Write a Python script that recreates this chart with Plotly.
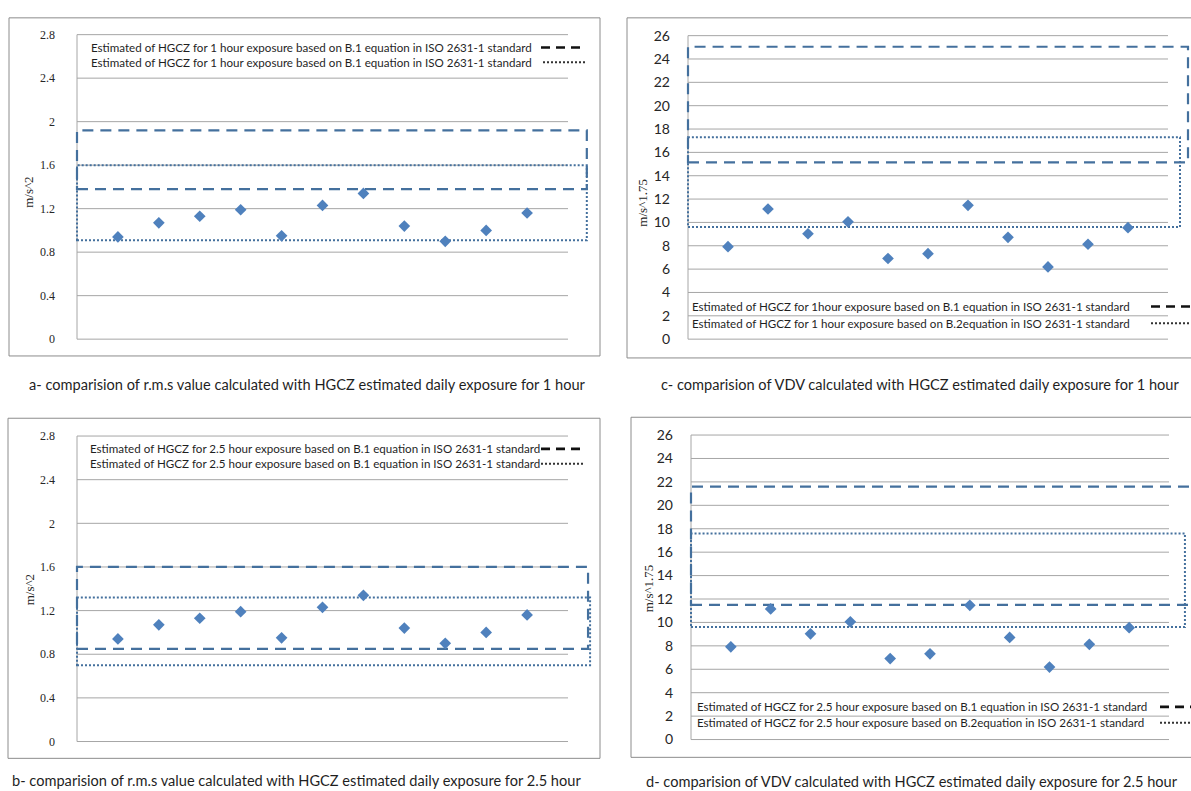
import plotly.graph_objects as go

W, H = 1191, 791

# ---------------- data ----------------
categories = list(range(1, 12))
rms_values = [0.94, 1.07, 1.13, 1.19, 0.95, 1.23, 1.34, 1.04, 0.90, 1.00, 1.16]
vdv_values = [7.92, 11.15, 9.03, 10.05, 6.91, 7.32, 11.46, 8.72, 6.19, 8.13, 9.55]

rms_ticks = [0, 0.4, 0.8, 1.2, 1.6, 2, 2.4, 2.8]
rms_ticklabels = ["0", "0.4", "0.8", "1.2", "1.6", "2", "2.4", "2.8"]
vdv_ticks = list(range(0, 27, 2))
vdv_ticklabels = [str(v) for v in vdv_ticks]

# HGCZ bands [lower, upper]
a_band_b1 = [1.38, 1.92]
a_band_b2 = [0.91, 1.60]
b_band_b1 = [0.85, 1.60]
b_band_b2 = [0.70, 1.32]
c_band_b1 = [15.15, 25.05]
c_band_b2 = [9.60, 17.30]
d_band_b1 = [11.50, 21.60]
d_band_b2 = [9.60, 17.60]
# right end of each band, in category units
a_band_end = [12.46, 12.46]
b_band_end = [12.49, 12.54]
c_band_end = [12.50, 12.30]
d_band_end = [12.90, 12.40]

a_legend = ["Estimated of HGCZ for 1 hour exposure based on B.1 equation in ISO 2631-1 standard",
            "Estimated of HGCZ for 1 hour exposure based on B.1 equation in ISO 2631-1 standard"]
b_legend = ["Estimated of HGCZ for 2.5 hour exposure based on B.1 equation in ISO 2631-1 standard",
            "Estimated of HGCZ for 2.5 hour exposure based on B.1 equation in ISO 2631-1 standard"]
c_legend = ["Estimated of HGCZ for 1hour exposure based on B.1 equation in ISO 2631-1 standard",
            "Estimated of HGCZ for 1 hour exposure based on B.2equation in ISO 2631-1 standard"]
d_legend = ["Estimated of HGCZ for 2.5 hour exposure based on B.1 equation in ISO 2631-1 standard",
            "Estimated of HGCZ for 2.5 hour exposure based on B.2equation in ISO 2631-1 standard"]

captions = ["a- comparision of r.m.s value calculated with HGCZ estimated daily exposure for 1 hour",
            "b- comparision of r.m.s value calculated with HGCZ estimated daily exposure for 2.5 hour",
            "c- comparision of VDV calculated with HGCZ estimated daily exposure for 1 hour",
            "d- comparision of VDV calculated with HGCZ estimated daily exposure for 2.5 hour"]

# ---------------- styling ----------------
MARK = "#4F81BD"
BAND = "#44709D"
GRID = "#A6A6A6"
BOX = "#8C8C8C"
SERIF = "Liberation Serif"
SANS = "Lato"


def px(x):
    return x / W


def py(y):
    return 1 - y / H


panels = [
    dict(ax="", values=rms_values, ticks=rms_ticks, labels=rms_ticklabels, top=2.8,
         L=77, R=568, T=30, B=338, E=595, bands=[a_band_b1, a_band_b2], ends=a_band_end,
         legend=a_legend, legx=89, legy=[43, 58], samp=[(541, 582, 43), (543, 586, 58)],
         serif=True, title="m/s^2", tpos=(29, 190), box=(9, 13, 600, 355),
         caption=captions[0], cpos=(307, 384), standoff=17),
    dict(ax="2", values=rms_values, ticks=rms_ticks, labels=rms_ticklabels, top=2.8,
         L=77, R=568, T=436, B=745, E=595, bands=[b_band_b1, b_band_b2], ends=b_band_end,
         legend=b_legend, legx=88, legy=[449, 464], samp=[(541, 581, 449), (541, 584, 464)],
         serif=True, title="m/s^2", tpos=(29, 592), box=(8, 418, 600, 762),
         caption=captions[1], cpos=(296, 784), standoff=17),
    dict(ax="3", values=vdv_values, ticks=vdv_ticks, labels=vdv_ticklabels, top=26,
         L=688, R=1168, T=31, B=338, E=1191, bands=[c_band_b1, c_band_b2], ends=c_band_end,
         legend=c_legend, legx=690, legy=[305, 322], samp=[(1151, 1191, 305), (1151, 1191, 322)],
         serif=False, title="m/s^1.75", tpos=(643, 200), box=(627, 13, 1205, 357),
         caption=captions[2], cpos=(920, 384), standoff=13),
    dict(ax="4", values=vdv_values, ticks=vdv_ticks, labels=vdv_ticklabels, top=26,
         L=691, R=1169, T=435, B=743, E=1191, bands=[d_band_b1, d_band_b2], ends=d_band_end,
         legend=d_legend, legx=695, legy=[710, 726], samp=[(1160, 1191, 710), (1160, 1191, 726)],
         serif=False, title="m/s^1.75", tpos=(648, 590), box=(631, 417, 1205, 761),
         caption=captions[3], cpos=(912, 785), standoff=13),
]

fig = go.Figure()
shapes = []
annotations = []
layout_axes = {}

for p in panels:
    ax = p["ax"]
    xref = "x" + ax
    yref = "y" + ax
    ux = (p["R"] - p["L"]) / 12.0
    uy = (p["B"] - p["T"]) / p["top"]
    padx = 4 / ux
    pady = 4 / uy
    xr = [-padx, (p["E"] - p["L"]) / ux]
    yr = [-pady, p["top"] + pady]
    xdom = [px(p["L"] - 4), px(p["E"])]
    ydom = [py(p["B"] + 4), py(p["T"] - 4)]

    layout_axes["xaxis" + ax] = dict(domain=xdom, range=xr, showgrid=False, zeroline=False,
                                     showline=False, showticklabels=False, ticks="",
                                     anchor=yref, fixedrange=True)
    layout_axes["yaxis" + ax] = dict(domain=ydom, range=yr, showgrid=False, zeroline=False,
                                     showline=False, tickmode="array", tickvals=p["ticks"],
                                     ticktext=p["labels"], ticks="", anchor=xref,
                                     ticklabelstandoff=p["standoff"],
                                     tickfont=dict(family=SERIF if p["serif"] else SANS,
                                                   size=12 if p["serif"] else 14,
                                                   color="#262626"),
                                     fixedrange=True)

    # gridlines
    for t in p["ticks"]:
        shapes.append(dict(type="line", xref=xref, yref=yref, x0=0, x1=12, y0=t, y1=t,
                           line=dict(color=GRID, width=1), layer="below"))
    # y axis line
    shapes.append(dict(type="line", xref=xref, yref=yref, x0=0, x1=0, y0=0, y1=p["top"],
                       line=dict(color=GRID, width=1), layer="below"))

    # bands
    b1, b2 = p["bands"]
    e1, e2 = p["ends"]
    shapes.append(dict(type="rect", xref=xref, yref=yref, x0=0, x1=e1, y0=b1[0], y1=b1[1],
                       line=dict(color=BAND, width=2.2, dash="11px,7px"), layer="below"))
    shapes.append(dict(type="rect", xref=xref, yref=yref, x0=0, x1=e2, y0=b2[0], y1=b2[1],
                       line=dict(color=BAND, width=2, dash="2px,2px"), layer="below"))

    # points
    fig.add_trace(go.Scatter(x=categories, y=p["values"], mode="markers", xaxis=xref, yaxis=yref,
                             marker=dict(symbol="diamond", size=9, color=MARK,
                                         line=dict(width=0)),
                             showlegend=False, hoverinfo="x+y"))

    # legend text + samples
    for txt, yy in zip(p["legend"], p["legy"]):
        annotations.append(dict(xref="paper", yref="paper", x=px(p["legx"]), y=py(yy),
                                xanchor="left", yanchor="middle", text=txt, showarrow=False,
                                font=dict(family=SANS, size=11.6, color="#1f1f1f")))
    (dx0, dx1, dy), (ox0, ox1, oy) = p["samp"]
    shapes.append(dict(type="line", xref="paper", yref="paper", x0=px(dx0), x1=px(dx1),
                       y0=py(dy), y1=py(dy), line=dict(color="#111111", width=2.6, dash="9px,6px")))
    shapes.append(dict(type="line", xref="paper", yref="paper", x0=px(ox0), x1=px(ox1),
                       y0=py(oy), y1=py(oy), line=dict(color="#333333", width=2, dash="2px,2px")))

    # axis title
    annotations.append(dict(xref="paper", yref="paper", x=px(p["tpos"][0]), y=py(p["tpos"][1]),
                            xanchor="center", yanchor="middle", text=p["title"], textangle=-90,
                            showarrow=False, font=dict(family=SERIF, size=13, color="#262626")))
    # panel border
    bx0, by0, bx1, by1 = p["box"]
    shapes.append(dict(type="rect", xref="paper", yref="paper", x0=px(bx0), x1=px(bx1),
                       y0=py(by1), y1=py(by0), line=dict(color=BOX, width=1)))
    # caption
    annotations.append(dict(xref="paper", yref="paper", x=px(p["cpos"][0]), y=py(p["cpos"][1]),
                            xanchor="center", yanchor="middle", text=p["caption"], showarrow=False,
                            font=dict(family=SANS, size=14.6, color="#1f1f1f")))

fig.update_layout(width=W, height=H, margin=dict(l=0, r=0, t=0, b=0),
                  paper_bgcolor="white", plot_bgcolor="white", showlegend=False,
                  shapes=shapes, annotations=annotations, **layout_axes)

fig.write_html("out.html", config={"displayModeBar": False},
               post_script="document.body.style.margin='0px';document.body.style.padding='0px';")
